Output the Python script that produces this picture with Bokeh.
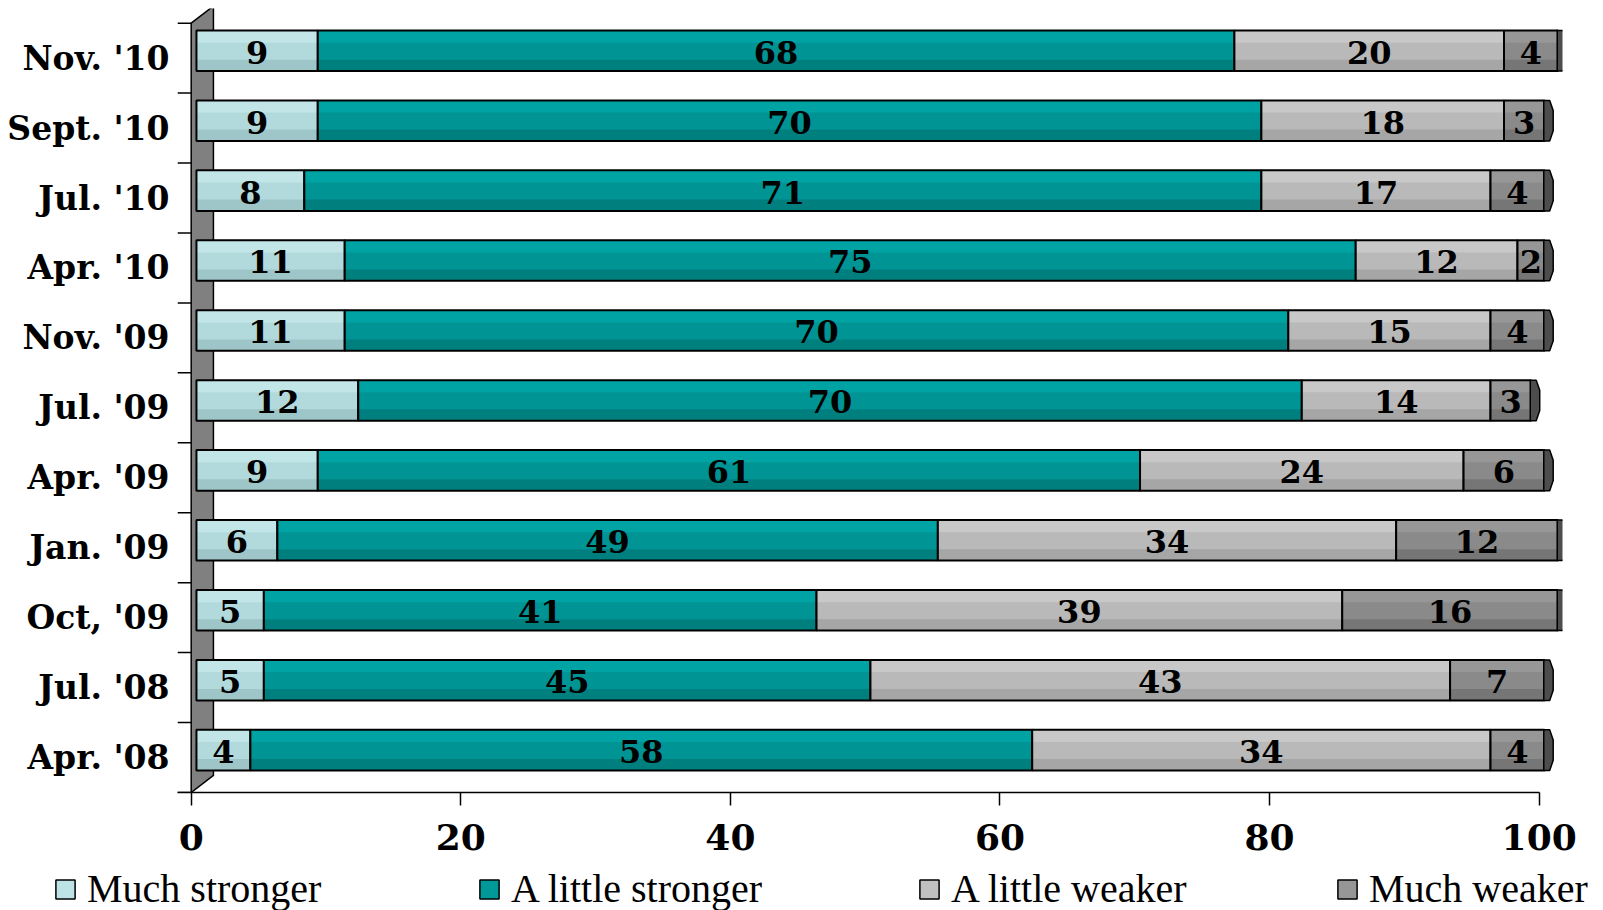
import numpy as np
from bokeh.plotting import figure
from bokeh.layouts import column
from bokeh.models import ColumnDataSource, FixedTicker, Legend, LegendItem, Range1d
from bokeh.core.properties import value
from bokeh.embed import file_html
from bokeh.resources import INLINE

# ---------------- data (bottom to top) ----------------
periods = ["Apr. '08", "Jul. '08", "Oct, '09", "Jan. '09", "Apr. '09", "Jul. '09",
           "Nov. '09", "Apr. '10", "Jul. '10", "Sept. '10", "Nov. '10"]
much_stronger = [4, 5, 5, 6, 9, 12, 11, 11, 8, 9, 9]
little_stronger = [58, 45, 41, 49, 61, 70, 70, 75, 71, 70, 68]
little_weaker = [34, 43, 39, 34, 24, 14, 15, 12, 17, 18, 20]
much_weaker = [4, 7, 16, 12, 6, 3, 4, 2, 4, 3, 4]
series_names = ["Much stronger", "A little stronger", "A little weaker", "Much weaker"]
x_ticks = [0, 20, 40, 60, 80, 100]

series = [much_stronger, little_stronger, little_weaker, much_weaker]

# ---------------- styles ----------------
base_colors = ["#B2DADD", "#009494", "#B9B9B9", "#8A8A8A"]
top_colors = ["#C2E6E8", "#00A3A3", "#C8C8C8", "#979797"]
bot_colors = ["#9EC6C9", "#007F7F", "#A6A6A6", "#767676"]
legend_colors = ["#BDE3E6", "#009999", "#C0C0C0", "#969696"]
FONT = value("DejaVu Serif")

X0, X1 = -1.09, 101.73
Y0, Y1 = -0.5, 10.71
BX, BY = 0.39, 0.106      # 3-D depth shift of the bars
BH = 0.58                 # bar thickness (category units)
WALL_D, WALL_DY = 1.65, 0.245
CAP_W = 0.65

p = figure(width=1595, height=865, x_range=Range1d(X0, X1), y_range=Range1d(Y0, Y1),
           output_backend="svg", toolbar_location=None, frame_align=False,
           min_border_left=176, min_border_right=33, min_border_top=8, min_border_bottom=73)
p.outline_line_color = None
p.xgrid.visible = False
p.ygrid.visible = False

n = len(periods)
ypos = np.arange(n, dtype=float)

# side wall
p.patch(x=[0, 0, WALL_D, WALL_D],
        y=[-0.5, n - 0.5, n - 0.5 + WALL_DY, -0.5 + WALL_DY],
        fill_color="#808080", line_color="black", line_width=1.5)

# category separator ticks on the left
bounds = np.arange(n + 1) - 0.5
p.segment(x0=np.full(n + 1, -1.0), x1=np.zeros(n + 1), y0=bounds, y1=bounds,
          line_color="black", line_width=1.5)

yc = ypos + BY
left = np.zeros(n)
label_x, label_y, label_t = [], [], []
for i, vals in enumerate(series):
    v = np.array(vals, dtype=float)
    src = ColumnDataSource(dict(left=left + BX, right=left + v + BX,
                                top=yc + BH / 2, bottom=yc - BH / 2,
                                ttop=yc + BH / 2, tbot=yc + BH / 2 - 0.3 * BH,
                                btop=yc - BH / 2 + 0.28 * BH, bbot=yc - BH / 2))
    p.quad(left="left", right="right", top="top", bottom="bottom", source=src,
           fill_color=base_colors[i], line_color=None)
    p.quad(left="left", right="right", top="ttop", bottom="tbot", source=src,
           fill_color=top_colors[i], line_color=None)
    p.quad(left="left", right="right", top="btop", bottom="bbot", source=src,
           fill_color=bot_colors[i], line_color=None)
    p.quad(left="left", right="right", top="top", bottom="bottom", source=src,
           fill_color=None, line_color="black", line_width=2)
    label_x += list(left + v / 2 + BX)
    label_y += list(yc - 0.02)
    label_t += [str(int(x)) for x in vals]
    left = left + v

# end caps
xs, ys = [], []
for e, c in zip(left + BX, yc):
    yt, yb = c + BH / 2, c - BH / 2
    xs.append([e - 0.05, e + 0.6 * CAP_W, e + CAP_W, e + CAP_W, e + 0.6 * CAP_W, e - 0.05])
    ys.append([yt, yt, yt - 0.25 * BH, yb + 0.25 * BH, yb, yb])
p.patches(xs=xs, ys=ys, fill_color="#4D4D4D", line_color="black", line_width=1.5)

p.text(x=label_x, y=label_y, text=label_t, text_font=FONT, text_font_style="bold",
       text_font_size="32px", text_align="center", text_baseline="middle", text_color="black")

# axes
p.xaxis.ticker = FixedTicker(ticks=x_ticks)
p.xaxis.bounds = (-1.0, 100)
p.xaxis.major_label_text_font = "DejaVu Serif"
p.xaxis.major_label_text_font_style = "bold"
p.xaxis.major_label_text_font_size = "36px"
p.xaxis.major_label_text_color = "black"
p.xaxis.major_label_standoff = 18
p.xaxis.major_tick_out = 13
p.xaxis.major_tick_in = 0
p.xaxis.minor_tick_out = 0
p.xaxis.minor_tick_in = 0
p.xaxis.axis_line_width = 1.5
p.xaxis.axis_line_color = "black"
p.xaxis.major_tick_line_width = 1.5

p.yaxis.ticker = FixedTicker(ticks=list(range(n)))
p.yaxis.major_label_overrides = {i: lab for i, lab in enumerate(periods)}
p.yaxis.major_label_text_font = "DejaVu Serif"
p.yaxis.major_label_text_font_style = "bold"
p.yaxis.major_label_text_font_size = "33px"
p.yaxis.major_label_text_color = "black"
p.yaxis.major_label_standoff = 1
p.yaxis.axis_line_color = None
p.yaxis.major_tick_line_color = None
p.yaxis.minor_tick_line_color = None

# ---------------- legend strip ----------------
p2 = figure(width=1603, height=45, x_range=Range1d(0, 1603), y_range=Range1d(0, 45),
            output_backend="svg", toolbar_location=None, min_border=0, frame_align=False)
p2.outline_line_color = None
p2.xgrid.visible = False
p2.ygrid.visible = False
p2.xaxis.visible = False
p2.yaxis.visible = False
legend_x = [53, 477, 917, 1335]
for i, name in enumerate(series_names):
    # one off-range swatch per series, only used to draw the legend key
    r = p2.quad(left=[-50], right=[-40], top=[-40], bottom=[-50], fill_color=legend_colors[i],
                line_color="black", line_width=1.5)
    leg = Legend(items=[LegendItem(label=name, renderers=[r])],
                 location=(legend_x[i], -2), orientation="horizontal",
                 glyph_width=24, glyph_height=24, label_standoff=10,
                 padding=0, margin=0, border_line_color=None, background_fill_alpha=0,
                 label_text_font="Liberation Serif", label_text_font_size="40px",
                 label_text_color="black")
    p2.add_layout(leg)

layout = column(p, p2, spacing=0)
open("out.html", "w").write(file_html(layout, INLINE))
